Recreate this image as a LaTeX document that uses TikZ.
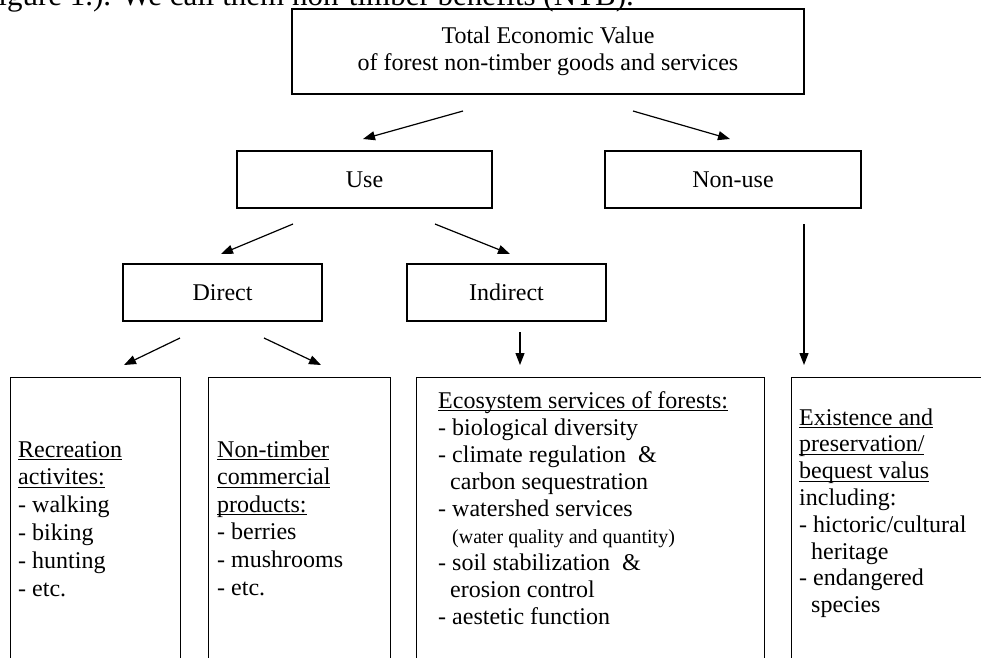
\documentclass[tikz,border=0pt]{standalone}
\usepackage{fontspec}
\setmainfont{Liberation Serif}
\usetikzlibrary{arrows.meta}
\newcommand\myul[1]{\setbox0\hbox{#1}\rlap{\rule[-3pt]{\wd0}{1.1pt}}\box0}
\begin{document}
\begin{tikzpicture}[x=1pt,y=-1pt,
  box/.style={draw, line width=1.3pt, inner sep=0pt, font=\fontsize{24}{27}\selectfont},
  tall/.style={draw, line width=1.3pt, inner sep=0pt, anchor=north west, minimum height=343pt},
  txt/.style={inner sep=0pt, anchor=base west},
  arr/.style={line width=1.2pt, -{Triangle[length=12pt,width=9pt]}}]
\useasboundingbox (0,0) rectangle (981,657);
\clip (0,0) rectangle (981,657);

\node[inner sep=0pt, anchor=base east, font=\fontsize{31}{34}\selectfont] (intro) at (634,5) {figure 1.). We call them non-timber benefits (NTB).};

\node[box, minimum width=512pt, minimum height=85pt, align=center] (tev) at (548,51.5)
  {Total Economic Value\\of forest non-timber goods and services};
\node[box, minimum width=255pt, minimum height=57pt] (use) at (364.5,179.5) {Use};
\node[box, minimum width=256pt, minimum height=57pt] (nonuse) at (733,179.5) {Non-use};
\node[box, minimum width=199pt, minimum height=57pt] (direct) at (222.5,292.5) {Direct};
\node[box, minimum width=199pt, minimum height=57pt] (indirect) at (506.5,292.5) {Indirect};

\node[tall, minimum width=170pt] (b1) at (10,377) {};
\node[tall, minimum width=182pt] (b2) at (208,377) {};
\node[tall, minimum width=348pt] (b3) at (416,377) {};
\node[tall, minimum width=300pt] (b4) at (791,377) {};

\node[txt, font=\fontsize{24}{27.8}\selectfont] (rec) at (18,457) {\begin{tabular}[t]{@{}l@{}}
\myul{Recreation}\\ \myul{activites:}\\ - walking\\ - biking\\ - hunting\\ - etc.\end{tabular}};
\node[txt, font=\fontsize{24}{27.6}\selectfont] (ntc) at (217,457) {\begin{tabular}[t]{@{}l@{}}
\myul{Non-timber}\\ \myul{commercial}\\ \myul{products:}\\ - berries\\ - mushrooms\\ - etc.\end{tabular}};
\node[txt, font=\fontsize{24}{27.1}\selectfont] (eco) at (438,408) {\begin{tabular}[t]{@{}l@{}}
\myul{Ecosystem services of forests:}\\ - biological diversity\\ - climate regulation\ \ \&\\
\hspace{12pt}carbon sequestration\\ - watershed services\\
\hspace{14pt}{\fontsize{20}{24}\selectfont (water quality and quantity)}\\
- soil stabilization\ \ \&\\ \hspace{12pt}erosion control\\ - aestetic function\end{tabular}};
\node[txt, font=\fontsize{24}{26.8}\selectfont] (exi) at (799,425) {\begin{tabular}[t]{@{}l@{}}
\myul{Existence and}\\ \myul{preservation/}\\ \myul{bequest valus}\\ including:\\
- hictoric/cultural\\ \hspace{12pt}heritage\\ - endangered\\ \hspace{12pt}species\end{tabular}};

\coordinate (t1) at (463,111); \coordinate (t1e) at (363,139);
\coordinate (t2) at (633,111); \coordinate (t2e) at (730,139);
\coordinate (u1) at (293,224); \coordinate (u1e) at (221,254);
\coordinate (u2) at (435,224); \coordinate (u2e) at (510,254);
\coordinate (n1) at (804,224); \coordinate (n1e) at (804,365);
\coordinate (d1) at (180,338); \coordinate (d1e) at (124,365);
\coordinate (d2) at (264,338); \coordinate (d2e) at (321,365);
\coordinate (i1) at (520,332); \coordinate (i1e) at (520,365);

\draw[arr] (t1) -- (t1e);
\draw[arr] (t2) -- (t2e);
\draw[arr] (u1) -- (u1e);
\draw[arr] (u2) -- (u2e);
\draw[arr] (n1) -- (n1e);
\draw[arr] (d1) -- (d1e);
\draw[arr] (d2) -- (d2e);
\draw[arr] (i1) -- (i1e);
\end{tikzpicture}
\end{document}
